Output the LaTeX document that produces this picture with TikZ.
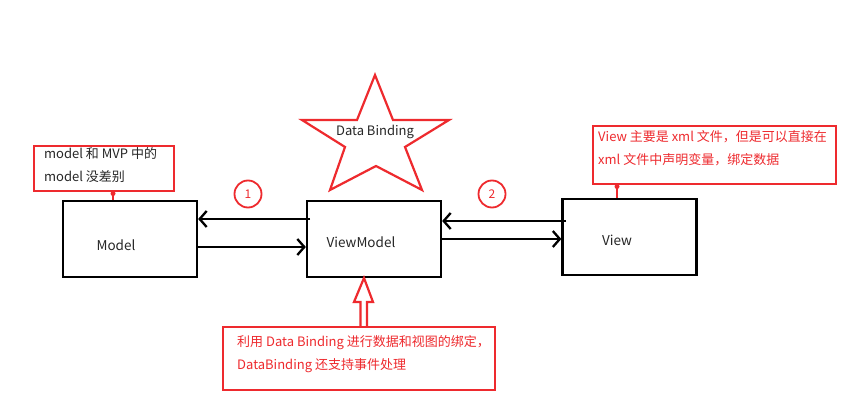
\documentclass[tikz,border=0pt]{standalone}
\usepackage{fontspec}
\setmainfont{Noto Sans CJK SC}
\usetikzlibrary{arrows.meta,calc}
\definecolor{myred}{HTML}{EE2A2E}
\begin{document}
\begin{tikzpicture}[x=1pt,y=-1pt,
  box/.style={draw=black,line width=2.3pt,minimum width=134pt,minimum height=76pt,inner sep=0pt},
  note/.style={draw=myred,line width=2.2pt,inner sep=0pt},
  lbl/.style={font=\fontsize{13.5}{16}\selectfont,text=black!85,inner sep=0pt},
  ntxt/.style={font=\fontsize{13}{23}\selectfont,align=left,inner sep=0pt,anchor=north west},
  arr/.style={line width=2.3pt,-{Straight Barb[length=7pt,width=16pt,line width=2.3pt]}},
  num/.style={draw=myred,line width=1.8pt,circle,minimum size=27pt,inner sep=0pt,text=myred,font=\fontsize{12}{14}\selectfont},
  link/.style={draw=myred,line width=2.2pt}
]
\useasboundingbox[fill=white] (0,0) rectangle (862,411);

% boxes
\node[box] (model) at (130,239) {};
\node[box] (vm) at (374,239) {};
\node[box] (view) at (629.5,237) {};
\node[lbl] (modell) at (116,245) {Model};
\node[lbl] (vml) at (361,242) {ViewModel};
\node[lbl] (viewl) at (617,240) {View};

% arrows 1
\coordinate (a1s) at (310,219);
\coordinate (a2s) at (197,247);
\draw[arr] (a1s) -- (a1s -| model.east);
\draw[arr] (a2s) -- (a2s -| vm.west);
% arrows 2
\coordinate (b1s) at (566,221);
\coordinate (b2s) at (441,239);
\draw[arr] (b1s) -- (b1s -| vm.east);
\draw[arr] (b2s) -- (b2s -| view.west);

% numbers
\node[num] (n1) at (248,194) {1};
\node[num] (n2) at (492,194) {2};

% star
\draw[myred,line width=2.2pt,line join=miter] (375,75) -- (357,120) -- (302,120) -- (345,147) -- (330,190) -- (376,166) -- (422,190) -- (405,147) -- (449,120) -- (393,120) -- cycle;
\node[lbl,font=\fontsize{13}{16}\selectfont] (db) at (375,132) {Data Binding};

% model note
\draw[note] (34,146) rectangle (174,191);
\node[ntxt,text=black!85] (mnote) at (44,147) {model 和 MVP 中的\\model 没差别};
\coordinate (mnb) at (113,191);
\draw[link] (mnb) -- (mnb |- model.north);
\fill[myred] (113,193.5) circle (2.5pt);

% view note
\draw[note] (593,126) rectangle (836,184);
\node[ntxt,text=myred] (vnote) at (598,130) {View 主要是 xml 文件，但是可以直接在\\xml 文件中声明变量，绑定数据};
\coordinate (vnb) at (617,184);
\draw[link] (vnb) -- (vnb |- view.north);
\fill[myred] (617,186.5) circle (2.5pt);

% bottom note
\draw[note] (223,327) rectangle (495,390);
\node[ntxt,text=myred] (bnote) at (237,335) {利用 Data Binding 进行数据和视图的绑定，\\DataBinding 还支持事件处理};

% hollow up arrow
\draw[myred,line width=2.2pt,line join=miter] (360.5,327) -- (360.5,302) -- (354,302) -- (364,278) -- (373,302) -- (367,302) -- (367,327);
\end{tikzpicture}
\end{document}
